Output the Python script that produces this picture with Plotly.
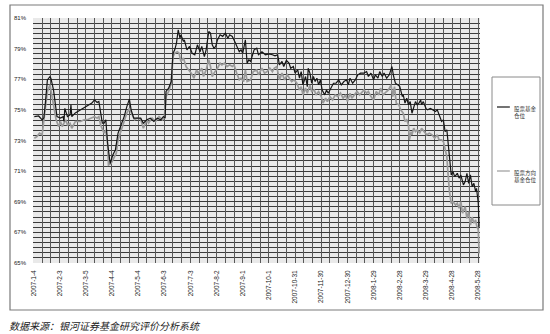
import pandas as pd
import plotly.graph_objects as go

START = "2007-01-04"

tick_labels = ["2007-1-4", "2007-2-3", "2007-3-5", "2007-4-4", "2007-5-4", "2007-6-3",
               "2007-7-3", "2007-8-2", "2007-9-1", "2007-10-1", "2007-10-31", "2007-11-30",
               "2007-12-30", "2008-1-29", "2008-2-28", "2008-3-29", "2008-4-28", "2008-5-28"]

series_names = ["股票基金仓位", "股票方向基金仓位"]

# days elapsed since 2007-01-04 and position (%) of stock funds
stock_days = [1, 6, 10, 12, 14, 16, 19, 20, 23, 25, 27, 31, 34, 35, 36, 39, 42, 43, 44, 48,
              54, 58, 63, 67, 70, 73, 75, 77, 79, 81, 83, 85, 87, 88, 91, 94, 97, 100, 104, 107,
              110, 112, 115, 119, 123, 126, 130, 134, 138, 142, 146, 149, 151, 152, 155, 158, 160, 162, 164, 166,
              168, 169, 172, 173, 176, 179, 182, 185, 188, 191, 193, 196, 198, 201, 203, 205, 207, 209, 211, 214,
              217, 220, 223, 225, 228, 230, 233, 236, 238, 240, 243, 245, 247, 249, 253, 256, 258, 262, 266, 270,
              274, 277, 280, 282, 285, 287, 290, 293, 295, 298, 300, 303, 305, 307, 309, 312, 314, 315, 317, 319,
              321, 323, 325, 327, 329, 331, 334, 336, 338, 341, 344, 347, 350, 353, 356, 359, 361, 363, 366, 369,
              372, 375, 379, 382, 384, 387, 390, 392, 395, 397, 400, 402, 405, 408, 411, 413, 415, 418, 420, 423,
              424, 426, 428, 430, 432, 434, 436, 438, 440, 442, 444, 445, 447, 450, 452, 455, 458, 461, 463, 466,
              468, 470, 472, 474, 475, 477, 478, 479, 481, 483, 486, 488, 490, 493, 495, 497, 499, 501, 503, 505,
              507, 508, 510, 511]
stock_pos = [74.56, 74.60, 74.35, 74.48, 75.65, 76.96, 77.18, 77.07, 76.30, 75.44, 74.56, 74.46, 74.56, 74.24, 75.10, 74.56, 74.67, 75.33, 74.56, 74.80,
             75.00, 75.10, 75.26, 75.44, 75.65, 75.48, 75.55, 74.90, 74.13, 74.13, 74.35, 72.82, 71.62, 71.50, 72.06, 72.40, 73.48, 73.90, 74.56, 75.20,
             75.70, 75.00, 74.46, 74.46, 74.46, 74.13, 74.35, 74.46, 74.24, 74.46, 74.35, 74.56, 74.46, 76.20, 76.42, 76.85, 78.70, 78.92, 79.36, 80.23,
             79.68, 79.90, 79.46, 79.57, 78.92, 79.14, 78.70, 78.60, 79.25, 78.80, 79.14, 78.48, 78.92, 80.12, 80.01, 79.25, 79.03, 79.14, 79.57, 79.90,
             79.80, 80.01, 79.68, 79.90, 79.80, 79.57, 79.14, 78.80, 78.92, 78.70, 79.57, 78.05, 78.27, 78.16, 78.92, 79.03, 78.60, 78.80, 78.60, 78.66,
             78.60, 78.53, 78.60, 77.94, 78.16, 77.83, 78.23, 78.05, 77.72, 77.83, 77.40, 77.61, 77.07, 77.50, 76.63, 77.18, 76.52, 77.72, 77.40, 76.74,
             77.18, 76.85, 77.07, 76.63, 76.96, 76.30, 75.98, 76.30, 76.09, 76.42, 76.74, 76.74, 76.96, 76.63, 76.85, 76.96, 76.63, 77.07, 76.74, 76.96,
             77.29, 77.40, 77.40, 77.50, 77.18, 77.40, 76.96, 77.29, 77.07, 77.50, 77.18, 77.40, 77.07, 77.29, 77.83, 77.18, 76.74, 76.63, 76.52, 75.87,
             75.98, 75.44, 75.76, 75.33, 75.54, 74.78, 75.20, 75.54, 75.33, 75.44, 75.65, 75.33, 75.54, 75.10, 75.00, 75.10, 75.00, 74.89, 75.00, 74.56,
             74.24, 74.35, 73.58, 73.69, 73.04, 72.17, 71.08, 70.75, 70.97, 70.64, 70.86, 70.54, 70.75, 70.10, 70.32, 70.86, 70.20, 70.75, 69.99, 70.20,
             69.66, 69.88, 68.90, 67.37]

# days elapsed since 2007-01-04 and position (%) of stock-oriented funds
mixed_days = [1, 4, 7, 10, 12, 14, 16, 19, 21, 24, 26, 29, 31, 33, 35, 37, 39, 42, 44, 48,
              54, 58, 63, 67, 70, 73, 75, 77, 79, 81, 83, 85, 86, 89, 92, 95, 97, 100, 103, 107,
              110, 113, 116, 119, 123, 126, 130, 132, 136, 140, 144, 148, 150, 152, 155, 158, 160, 162, 165, 167,
              169, 172, 175, 178, 181, 184, 187, 189, 193, 195, 198, 201, 203, 205, 207, 211, 214, 216, 219, 222,
              225, 228, 230, 233, 236, 238, 241, 243, 245, 249, 252, 256, 258, 262, 265, 268, 271, 274, 276, 279,
              282, 285, 288, 291, 294, 296, 299, 302, 305, 307, 309, 312, 314, 317, 319, 322, 324, 327, 330, 332,
              335, 337, 340, 343, 346, 349, 352, 355, 358, 360, 363, 365, 368, 371, 374, 379, 382, 384, 387, 390,
              393, 396, 398, 401, 405, 407, 410, 412, 414, 416, 419, 421, 424, 426, 428, 430, 431, 433, 434, 436,
              438, 440, 443, 445, 448, 451, 454, 457, 460, 463, 465, 468, 470, 472, 474, 475, 477, 479, 481, 484,
              486, 488, 490, 492, 495, 497, 499, 501, 503, 505, 507, 508, 510, 511]
mixed_pos = [73.15, 73.26, 73.48, 73.37, 74.35, 75.33, 76.20, 76.63, 75.87, 75.00, 74.35, 73.91, 74.24, 73.91, 74.13, 74.35, 74.02, 74.13, 73.80, 74.24,
             74.24, 74.35, 74.39, 74.46, 74.56, 74.46, 74.56, 74.02, 73.69, 73.48, 73.69, 72.82, 71.40, 71.50, 71.84, 72.17, 73.04, 73.58, 74.13, 74.78,
             75.10, 74.67, 74.35, 74.46, 74.39, 73.80, 74.35, 74.13, 74.46, 74.24, 74.56, 74.35, 74.46, 75.87, 76.20, 76.74, 78.48, 78.70, 78.80, 78.70,
             78.16, 78.38, 77.83, 77.61, 77.40, 77.07, 77.61, 77.40, 77.72, 77.18, 77.61, 78.27, 77.83, 77.18, 77.40, 77.72, 78.05, 77.94, 78.05, 77.83,
             77.94, 77.83, 77.94, 77.40, 76.96, 77.07, 76.85, 77.61, 76.85, 76.96, 77.50, 77.61, 77.29, 77.72, 77.40, 77.50, 77.72, 77.50, 77.72, 77.83,
             76.96, 77.40, 76.96, 77.29, 77.07, 76.85, 76.96, 76.74, 76.30, 76.52, 75.98, 76.42, 76.09, 76.63, 76.20, 76.30, 75.98, 76.20, 75.87, 75.44,
             75.76, 75.54, 75.87, 75.65, 75.98, 75.87, 76.09, 75.76, 75.98, 75.54, 76.09, 75.76, 75.98, 76.20, 75.98, 76.30, 76.09, 76.20, 75.87, 75.65,
             76.20, 75.98, 76.42, 75.98, 76.20, 76.30, 76.63, 75.87, 76.52, 75.44, 75.33, 75.00, 74.78, 74.24, 74.35, 74.02, 73.04, 73.58, 73.37, 73.80,
             73.58, 73.69, 73.48, 73.80, 73.58, 73.37, 73.48, 73.37, 73.15, 73.37, 73.04, 73.04, 72.93, 72.39, 71.95, 71.08, 69.66, 68.90, 69.00, 68.79,
             68.90, 68.57, 69.00, 68.25, 68.68, 67.92, 68.35, 67.48, 68.00, 67.60, 67.81, 67.48, 67.16, 65.63]

y_ticks = [65, 67, 69, 71, 73, 75, 77, 79, 81]

start = pd.Timestamp(START)
stock_x = start + pd.to_timedelta(stock_days, unit="D")
mixed_x = start + pd.to_timedelta(mixed_days, unit="D")

# vertical gridlines every 10 days; a date label on every third one
n_lines = 3 * (len(tick_labels) - 1) + 1
grid_vals = [start + pd.Timedelta(days=10 * k) for k in range(n_lines)]
grid_text = [tick_labels[k // 3] if k % 3 == 0 else "" for k in range(n_lines)]

fig = go.Figure()
fig.add_trace(go.Scatter(x=mixed_x, y=mixed_pos, mode="lines", name=series_names[1],
                         line=dict(color="#9a9a9a", width=1.7)))
fig.add_trace(go.Scatter(x=stock_x, y=stock_pos, mode="lines", name=series_names[0],
                         line=dict(color="#151515", width=1.2)))

grid_h = "#3a3a3a"
grid_v = "#585858"

fig.update_xaxes(
    type="date",
    range=[pd.Timestamp("2007-01-03 12:00"), pd.Timestamp("2008-05-30")],
    tickmode="array", tickvals=grid_vals, ticktext=grid_text,
    tickangle=-90, tickfont=dict(family="Liberation Sans", size=6.5, color="#222"),
    ticks="", ticklabelstandoff=5,
    showgrid=True, gridcolor=grid_v, gridwidth=1,
    showline=False, zeroline=False,
)
fig.update_yaxes(
    range=[65, 81],
    tickmode="array", tickvals=y_ticks, ticktext=[f"{v}%" for v in y_ticks],
    tickfont=dict(family="Liberation Sans", size=6, color="#222"),
    ticks="", ticklabelstandoff=6,
    showgrid=True, gridcolor=grid_h, gridwidth=1,
    minor=dict(dtick=1/3, tick0=65, showgrid=True, gridcolor=grid_h, gridwidth=1),
    showline=False, zeroline=False,
)

W, H = 550, 334
L, R, T, B = 33, 70, 18, 71
pw, ph = W - L - R, H - T - B


def px(x):
    return (x - L) / pw


def py(y):
    return (H - B - y) / ph


shapes = [
    dict(type="rect", xref="paper", yref="paper", x0=px(10), x1=px(543), y0=py(310), y1=py(5),
         line=dict(color="#7a7a7a", width=1.2), fillcolor="rgba(0,0,0,0)", layer="below"),
    dict(type="rect", xref="paper", yref="paper", x0=px(492), x1=px(540), y0=py(205), y1=py(77),
         line=dict(color="#8a8a8a", width=1), fillcolor="white"),
    dict(type="line", xref="paper", yref="paper", x0=px(497), x1=px(510), y0=py(107), y1=py(107),
         line=dict(color="#151515", width=1.2)),
    dict(type="line", xref="paper", yref="paper", x0=px(497), x1=px(510), y0=py(171), y1=py(171),
         line=dict(color="#9c9c9c", width=1.2)),
]

annotations = [
    dict(x=px(512), y=py(103), xref="paper", yref="paper", xanchor="left", yanchor="top",
         text="股票基金<br>仓位", showarrow=False, align="left",
         font=dict(family="Noto Sans CJK SC", size=5.5, color="#333")),
    dict(x=px(512), y=py(167), xref="paper", yref="paper", xanchor="left", yanchor="top",
         text="股票方向<br>基金仓位", showarrow=False, align="left",
         font=dict(family="Noto Sans CJK SC", size=5.5, color="#333")),
    dict(x=px(7), y=py(325), xref="paper", yref="paper", xanchor="left", yanchor="middle",
         text="<i>数据来源：银河证券基金研究评价分析系统</i>", showarrow=False,
         font=dict(family="Noto Sans CJK SC", size=10, color="#222")),
]

fig.update_layout(
    width=W, height=H,
    margin=dict(l=L, r=R, t=T, b=B),
    paper_bgcolor="white", plot_bgcolor="#e9e9e9",
    showlegend=False,
    shapes=shapes, annotations=annotations,
)

fig.write_html("out.html")
